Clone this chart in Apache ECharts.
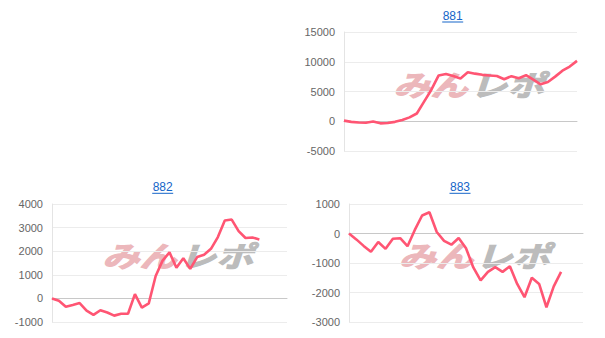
<!DOCTYPE html>
<html><head><meta charset="utf-8">
<script src="https://cdn.jsdelivr.net/npm/echarts@6/dist/echarts.min.js"></script>
<style>html,body{margin:0;padding:0;background:#fff}#c{width:605px;height:338px}</style>
</head><body><div id="c"></div>
<script>
const titles = ['881', '882', '883'];
const values881 = [100, -100, -200, -250, -50, -350, -300, -100, 200, 650, 1300, 3300, 5300, 7700, 7950, 7600, 7200, 8250, 8000, 7800, 7700, 7600, 7050, 7580, 7240, 7740, 7000, 6200, 6600, 7500, 8500, 9200, 10150];
const values882 = [0, -100, -350, -280, -200, -520, -700, -500, -600, -730, -650, -650, 180, -390, -210, 950, 1600, 1950, 1300, 1700, 1250, 1750, 1850, 2100, 2600, 3300, 3340, 2850, 2560, 2580, 2500];
const values883 = [0, -200, -420, -620, -290, -520, -180, -160, -430, 120, 610, 720, 50, -250, -380, -150, -500, -1150, -1590, -1300, -1140, -1300, -1110, -1710, -2160, -1500, -1710, -2500, -1790, -1300];
const categoryCount = [33, 35, 33];
const yMin = [-5000, -1000, -3000];
const yMax = [15000, 4000, 1000];
const yInterval = [5000, 1000, 1000];
const seriesValues = [values881, values882, values883];

const grids = [
  {left: 344, right: 28, top: 32, bottom: 187},
  {left: 52, right: 318, top: 204, bottom: 16},
  {left: 349, right: 22, top: 204, bottom: 16}
];
const titlePos = [[452.7, 16], [162.7, 187.3], [460, 187.3]];

const W = 605, H = 338;
const chart = echarts.init(document.getElementById('c'), null, {renderer: 'svg'});

const xAxes = [], yAxes = [], series = [], graphics = [];
for (let k = 0; k < 3; k++) {
  const cats = [];
  for (let i = 1; i <= categoryCount[k]; i++) cats.push(String(i));
  xAxes.push({
    type: 'category', gridIndex: k, data: cats, boundaryGap: false,
    axisLine: {show: true, onZero: true, lineStyle: {color: '#c8c8c8'}},
    axisTick: {show: false}, axisLabel: {show: false}, splitLine: {show: false}
  });
  yAxes.push({
    type: 'value', gridIndex: k, min: yMin[k], max: yMax[k], interval: yInterval[k],
    axisLine: {show: true, lineStyle: {color: '#e4e4e4'}},
    axisTick: {show: false},
    axisLabel: {color: '#666', fontSize: 11, fontFamily: 'Liberation Sans', margin: 9,
      formatter: function (v) { return String(v); }},
    splitLine: {lineStyle: {color: '#ececec'}}
  });
  series.push({
    type: 'line', xAxisIndex: k, yAxisIndex: k, data: seriesValues[k],
    showSymbol: false, symbol: 'none', z: 3,
    lineStyle: {color: '#ff5573', width: 2.6},
    itemStyle: {color: '#ff5573'}
  });
  const g = grids[k];
  const cx = (g.left + (W - g.right)) / 2 + 6;
  const cy = (g.top + (H - g.bottom)) / 2 - 8;
  graphics.push({
    type: 'group', x: cx, y: cy, scaleX: 1.2, scaleY: 0.92, z: 0, silent: true,
    children: [
      {type: 'text', x: 1, y: 0, style: {text: 'みん', align: 'right', verticalAlign: 'middle',
        font: 'italic bold 31px "Noto Sans CJK JP"', fill: '#ecb7bb', stroke: '#ecb7bb', lineWidth: 1.2}},
      {type: 'text', x: 3, y: 0, style: {text: 'レポ', align: 'left', verticalAlign: 'middle',
        font: 'italic bold 31px "Noto Sans CJK JP"', fill: '#bcbcbc', stroke: '#bcbcbc', lineWidth: 1.2}}
    ]
  });
  graphics.push({
    type: 'text', x: titlePos[k][0], y: titlePos[k][1], z: 5,
    style: {text: titles[k], align: 'center', verticalAlign: 'middle',
      font: '12px "Liberation Sans"', fill: '#1565c8'}
  });
  graphics.push({
    type: 'rect', z: 5,
    shape: {x: titlePos[k][0] - 10.5, y: titlePos[k][1] + 5.5, width: 21, height: 1},
    style: {fill: '#1565c8'}
  });
}

chart.setOption({
  animation: false,
  grid: grids,
  xAxis: xAxes,
  yAxis: yAxes,
  series: series,
  graphic: graphics
});
</script></body></html>
